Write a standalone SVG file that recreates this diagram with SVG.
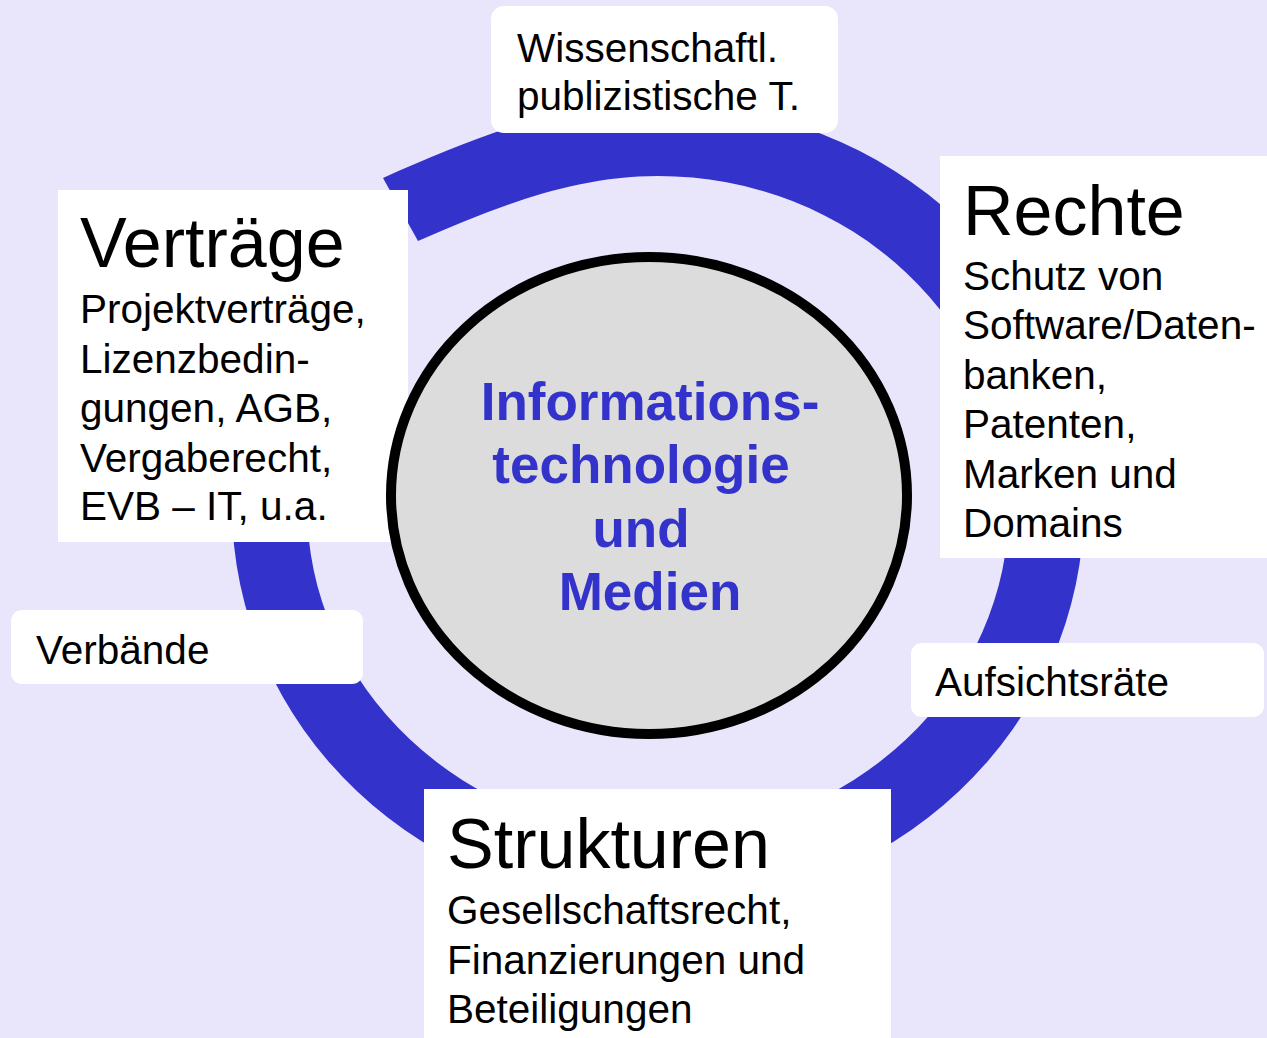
<svg xmlns="http://www.w3.org/2000/svg" width="1267" height="1038" viewBox="0 0 1267 1038">
  <style>
    text { font-family: "Liberation Sans", Arial, sans-serif; fill: #000; }
    .title { font-size: 70px; }
    .body { font-size: 40.5px; }
    .core { font-size: 53px; font-weight: bold; fill: #3333CC; text-anchor: middle; }
    .box { fill: #FFFFFF; }
  </style>

  <!-- background -->
  <rect x="0" y="0" width="1267" height="1038" fill="#E9E6FC"/>

  <!-- blue block arc around the centre -->
  <g id="ring">
    <path fill="#3333CC" d="M 383 178 C 473 138 558 103 658 103 A 426 403 0 0 1 1084 506 A 426 403 0 0 1 658 909 A 426 403 0 0 1 232 506 A 426 403 0 0 1 275 330 L 361 330 A 351 330 0 0 0 307 506 A 351 330 0 0 0 658 836 A 351 330 0 0 0 1009 506 A 351 330 0 0 0 658 176 C 568 176 488 211 418 241 Z"/>
  </g>

  <g id="wissenschaft">
    <rect class="box" x="491" y="6" width="347" height="127" rx="13"/>
    <text class="body" x="517" y="62">Wissenschaftl.</text>
    <text class="body" x="517" y="110">publizistische T.</text>
  </g>

  <g id="vertraege">
    <rect class="box" x="58" y="190" width="350" height="352"/>
    <text class="title" x="80" y="267">Verträge</text>
    <text class="body" x="80" y="323">Projektverträge,</text>
    <text class="body" x="80" y="372.5">Lizenzbedin-</text>
    <text class="body" x="80" y="422">gungen, AGB,</text>
    <text class="body" x="80" y="471.5">Vergaberecht,</text>
    <text class="body" x="80" y="520">EVB – IT, u.a.</text>
  </g>

  <g id="rechte">
    <rect class="box" x="940" y="156" width="327" height="402"/>
    <text class="title" x="963" y="235">Rechte</text>
    <text class="body" x="963" y="290">Schutz von</text>
    <text class="body" x="963" y="339">Software/Daten-</text>
    <text class="body" x="963" y="389">banken,</text>
    <text class="body" x="963" y="438">Patenten,</text>
    <text class="body" x="963" y="488">Marken und</text>
    <text class="body" x="963" y="537">Domains</text>
  </g>

  <g id="verbaende">
    <rect class="box" x="11" y="610" width="352" height="74" rx="11"/>
    <text class="body" x="36" y="664">Verbände</text>
  </g>

  <g id="aufsichtsraete">
    <rect class="box" x="911" y="643" width="353" height="74" rx="11"/>
    <text class="body" x="935" y="696">Aufsichtsräte</text>
  </g>

  <g id="strukturen">
    <rect class="box" x="424" y="789" width="467" height="260"/>
    <text class="title" x="447" y="868">Strukturen</text>
    <text class="body" x="447" y="924">Gesellschaftsrecht,</text>
    <text class="body" x="447" y="973.5">Finanzierungen und</text>
    <text class="body" x="447" y="1023">Beteiligungen</text>
  </g>

  <!-- centre, drawn over the side boxes -->
  <g id="center">
    <ellipse cx="649" cy="495.5" rx="258" ry="238.5" fill="#DCDCDC" stroke="#000" stroke-width="10"/>
    <text class="core" x="650" y="420">Informations-</text>
    <text class="core" x="641" y="483">technologie</text>
    <text class="core" x="641" y="547">und</text>
    <text class="core" x="650" y="610">Medien</text>
  </g>
</svg>
